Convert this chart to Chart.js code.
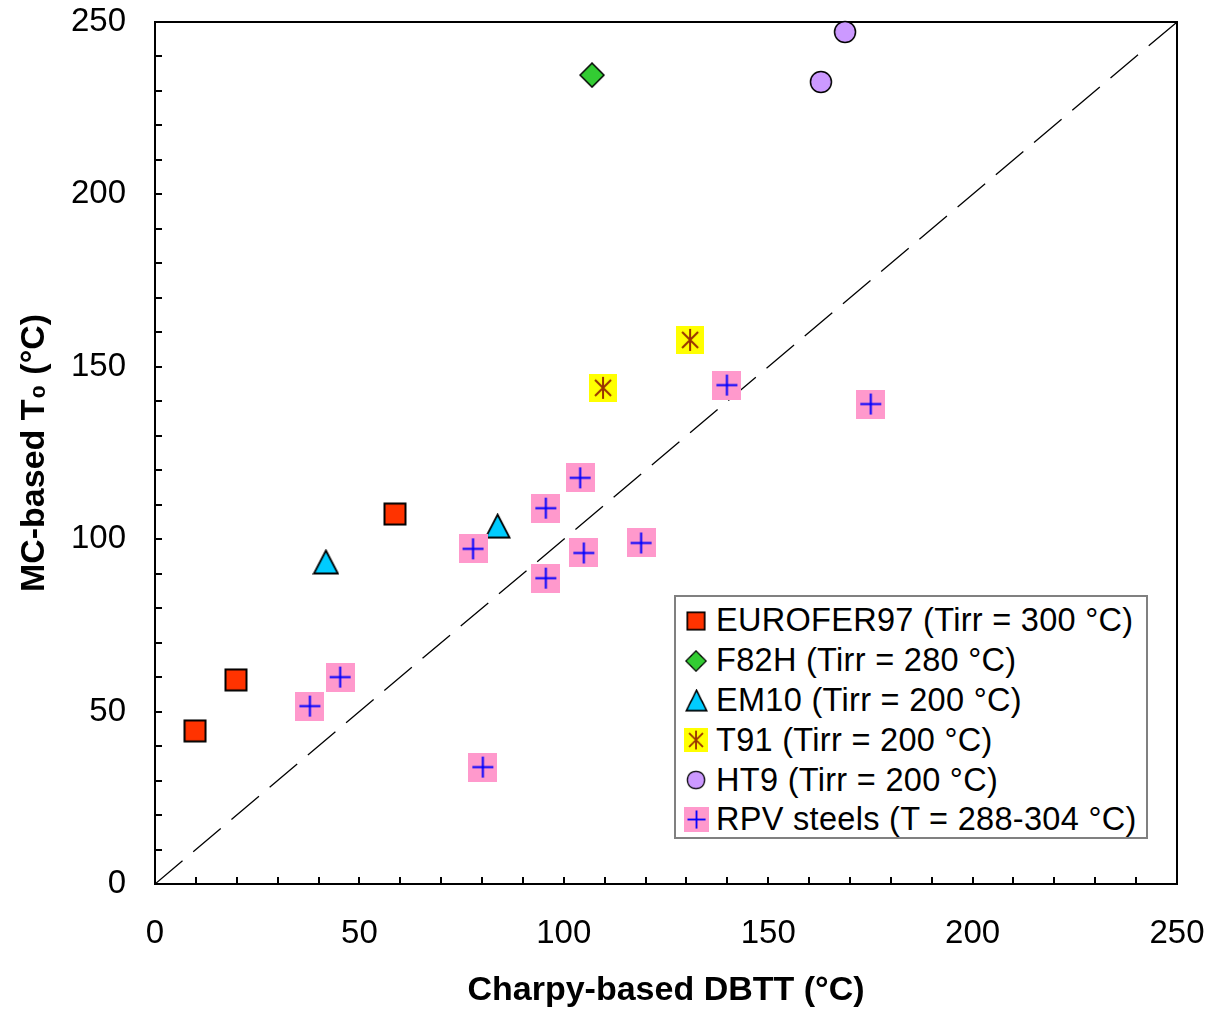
<!DOCTYPE html>
<html><head><meta charset="utf-8">
<script src="https://cdn.jsdelivr.net/npm/chart.js@4.4.1/dist/chart.umd.min.js"></script>
<style>
html,body{margin:0;padding:0;background:#fff;}
#wrap{position:relative;width:1210px;height:1009px;}
#legend{position:absolute;left:674px;top:595px;width:474px;height:244px;border:2px solid #808080;background:#fff;font:32.5px 'Liberation Sans',Arial,sans-serif;letter-spacing:0.3px;color:#000;box-sizing:border-box;padding-top:4px;}
.row{height:39.8px;display:flex;align-items:center;white-space:nowrap;}
.mk{width:40px;display:flex;justify-content:center;align-items:center;}
</style></head>
<body><div id="wrap"><canvas id="c" width="1210" height="1009"></canvas><div id="legend"></div></div>
<script>
// ---- data ----
const xTicks = [0, 50, 100, 150, 200, 250];
const yTicks = [0, 50, 100, 150, 200, 250];
const seriesNames = ['EUROFER97 (Tirr = 300 °C)', 'F82H (Tirr = 280 °C)', 'EM10 (Tirr = 200 °C)', 'T91 (Tirr = 200 °C)', 'HT9 (Tirr = 200 °C)', 'RPV steels (T = 288-304 °C)'];
const euroferX = [9.8, 19.8, 58.7];
const euroferY = [44.4, 59.2, 107.3];
const f82hX = [106.9];
const f82hY = [234.6];
const em10X = [41.8, 83.8];
const em10Y = [93.4, 103.8];
const t91X = [130.9, 109.6];
const t91Y = [157.8, 143.9];
const ht9X = [168.8, 162.9];
const ht9Y = [247.1, 232.6];
const rpvX = [37.9, 45.3, 80.2, 77.8, 95.6, 95.6, 104.0, 104.9, 118.9, 139.9, 175.1];
const rpvY = [51.6, 60.0, 33.9, 97.2, 88.7, 109.0, 117.8, 96.0, 98.9, 144.7, 139.2];
const diagX = [0, 250];
const diagY = [0, 250];

// ---- markers ----
function mk(w, h, fn) { const c = document.createElement('canvas'); c.width = w; c.height = h; const g = c.getContext('2d'); fn(g); return c; }
const mSquare = mk(24, 24, g => { g.fillStyle = '#ff3300'; g.fillRect(1.5, 1.5, 21, 21); g.lineWidth = 2; g.strokeStyle = '#000'; g.strokeRect(1.5, 1.5, 21, 21); });
const mDiamond = mk(26, 26, g => { g.beginPath(); g.moveTo(13, 1); g.lineTo(25, 13); g.lineTo(13, 25); g.lineTo(1, 13); g.closePath(); g.fillStyle = '#33cc33'; g.fill(); g.lineWidth = 1.5; g.strokeStyle = '#000'; g.stroke(); });
const mTri = mk(27, 26, g => { g.beginPath(); g.moveTo(13.5, 1.5); g.lineTo(25.5, 24.5); g.lineTo(1.5, 24.5); g.closePath(); g.fillStyle = '#00ccff'; g.fill(); g.lineWidth = 1.8; g.strokeStyle = '#000'; g.stroke(); });
const mStar = mk(28, 28, g => { g.fillStyle = '#ffff00'; g.fillRect(0, 0, 28, 28); g.strokeStyle = '#993300'; g.lineWidth = 2; g.beginPath(); g.moveTo(14, 3); g.lineTo(14, 25); g.moveTo(6, 6); g.lineTo(22, 22); g.moveTo(22, 6); g.lineTo(6, 22); g.stroke(); });
const mCircle = mk(24, 24, g => { g.beginPath(); g.arc(12, 12, 10.5, 0, Math.PI * 2); g.fillStyle = '#cc99ff'; g.fill(); g.lineWidth = 1.5; g.strokeStyle = '#000'; g.stroke(); });
const mPlus = mk(29, 29, g => { g.fillStyle = '#ff99cc'; g.fillRect(0, 0, 29, 29); g.strokeStyle = '#0000ff'; g.lineWidth = 2; g.beginPath(); g.moveTo(4, 14.5); g.lineTo(25, 14.5); g.moveTo(14.5, 4); g.lineTo(14.5, 25); g.stroke(); });

const pts = (xs, ys) => xs.map((x, i) => ({ x: x, y: ys[i] }));
const markers = [mSquare, mDiamond, mTri, mStar, mCircle, mPlus];
const sets = [[euroferX, euroferY], [f82hX, f82hY], [em10X, em10Y], [t91X, t91Y], [ht9X, ht9Y], [rpvX, rpvY]];

const datasets = [{
  type: 'line', label: 'diag', data: pts(diagX, diagY), borderColor: '#000', borderWidth: 1.3,
  borderDash: [36, 14], pointRadius: 0, fill: false, order: 10
}];
sets.forEach((s, i) => datasets.push({
  type: 'scatter', label: seriesNames[i], data: pts(s[0], s[1]), pointStyle: markers[i],
  pointRadius: 12, pointHoverRadius: 12, clip: false, order: 6 - i
}));

const FONT = "'Liberation Sans', Arial, sans-serif";
const boxPlugin = {
  id: 'box',
  beforeDatasetsDraw(chart) {
    const { ctx, chartArea: a, scales } = chart;
    ctx.save();
    ctx.strokeStyle = '#000'; ctx.lineWidth = 2;
    ctx.strokeRect(a.left, a.top, a.right - a.left, a.bottom - a.top);
    ctx.beginPath();
    for (let v = 10; v < 250; v += 10) {
      const px = Math.round(scales.x.getPixelForValue(v));
      ctx.moveTo(px, a.bottom); ctx.lineTo(px, a.bottom - 7);
      const py = Math.round(scales.y.getPixelForValue(v));
      ctx.moveTo(a.left, py); ctx.lineTo(a.left + 7, py);
    }
    ctx.lineWidth = 2;
    ctx.stroke();
    ctx.restore();
  }
};
const zeroPad = s => { s.paddingTop = 0; s.paddingBottom = 0; s.paddingLeft = 0; s.paddingRight = 0; };

new Chart(document.getElementById('c'), {
  data: { datasets: datasets },
  plugins: [boxPlugin],
  options: {
    responsive: false, animation: false, events: [],
    layout: { padding: { left: 0, right: 33, top: 22, bottom: 0 } },
    plugins: { legend: { display: false }, tooltip: { enabled: false } },
    scales: {
      x: {
        type: 'linear', min: 0, max: 250,
        afterBuildTicks: s => { s.ticks = xTicks.map(v => ({ value: v })); },
        afterFit: s => { s.height = 125; zeroPad(s); },
        grid: { display: false, drawTicks: false }, border: { display: false },
        ticks: { color: '#000', font: { family: FONT, size: 33 }, padding: 30, maxRotation: 0 },
        title: { display: true, text: 'Charpy-based DBTT (°C)', color: '#000', font: { family: FONT, size: 34, weight: 'bold' }, padding: { top: 0, bottom: -2 } }
      },
      y: {
        type: 'linear', min: 0, max: 250,
        afterBuildTicks: s => { s.ticks = yTicks.map(v => ({ value: v })); },
        afterFit: s => { s.width = 155; zeroPad(s); },
        grid: { display: false, drawTicks: false }, border: { display: false },
        ticks: { color: '#000', font: { family: FONT, size: 33 }, padding: 29 },
        title: { display: true, text: 'MC-based T₀ (°C)', color: '#000', font: { family: FONT, size: 34, weight: 'bold' }, padding: { top: 14, bottom: 0 } }
      }
    }
  }
});

// ---- legend (HTML) ----
const lg = document.getElementById('legend');
seriesNames.forEach((n, i) => {
  const r = document.createElement('div'); r.className = 'row';
  const m = document.createElement('div'); m.className = 'mk';
  const img = document.createElement('img'); img.src = markers[i].toDataURL();
  img.style.width = Math.round(markers[i].width * 0.85) + 'px';
  m.appendChild(img);
  const t = document.createElement('span'); t.textContent = n;
  r.appendChild(m); r.appendChild(t); lg.appendChild(r);
});
</script>
</body></html>
